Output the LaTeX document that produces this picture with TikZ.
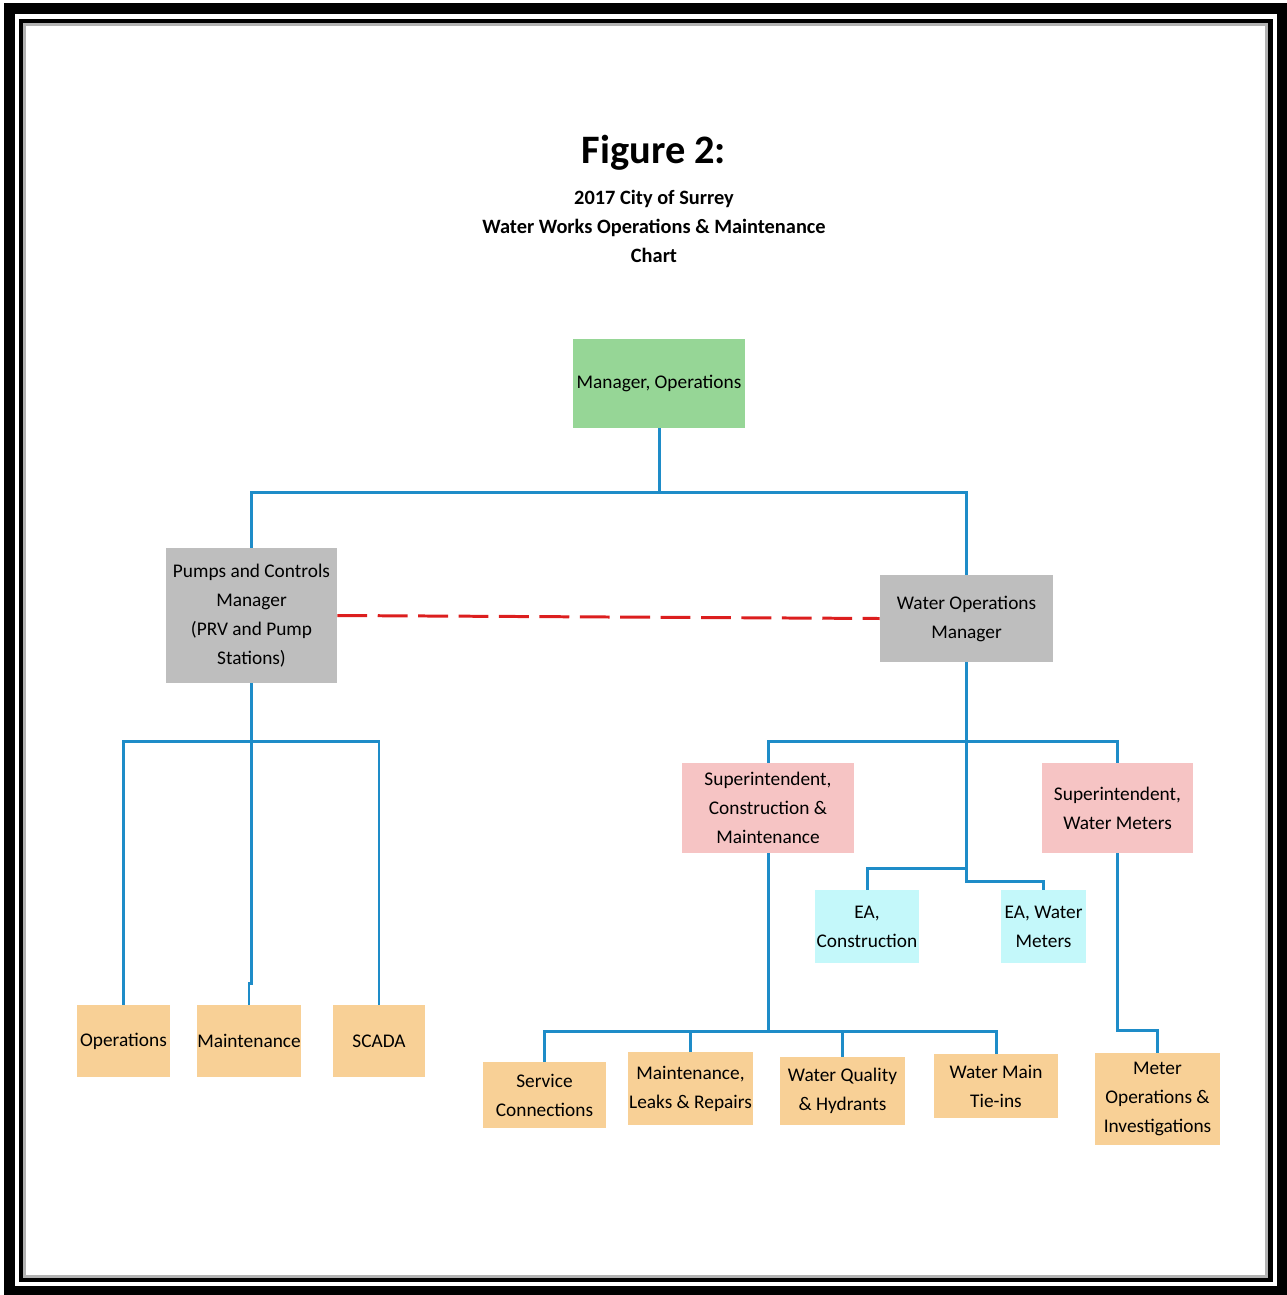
\documentclass[tikz,border=0pt]{standalone}
\usepackage{fontspec}
\setmainfont{Carlito}
\usetikzlibrary{calc}
\definecolor{MgrGreen}{RGB}{150,214,150}
\definecolor{MgrGrey}{RGB}{190,190,190}
\definecolor{SupPink}{RGB}{246,196,196}
\definecolor{EaCyan}{RGB}{196,248,250}
\definecolor{TeamOrange}{RGB}{248,208,150}
\definecolor{LinkBlue}{RGB}{30,140,200}
\definecolor{DashRed}{RGB}{220,30,30}
\tikzstyle{BoxNode}=[rectangle, inner sep=0pt, align=center, font=\fontsize{11}{16.5}\selectfont]
\tikzstyle{MgrNode}=[BoxNode, fill=MgrGreen]
\tikzstyle{GreyNode}=[BoxNode, fill=MgrGrey]
\tikzstyle{SupNode}=[BoxNode, fill=SupPink]
\tikzstyle{EaNode}=[BoxNode, fill=EaCyan]
\tikzstyle{TeamNode}=[BoxNode, fill=TeamOrange]
\tikzstyle{LinkEdge}=[LinkBlue, line width=1.7pt]
\tikzstyle{DashEdge}=[DashRed, line width=1.7pt, dash pattern=on 17pt off 6pt]

\begin{document}
\begin{tikzpicture}[x=0.02cm, y=-0.02cm]
\useasboundingbox (0,0) rectangle (1286,1295);
% frame
\draw[line width=5.7pt] (9.5,8.5) rectangle (1282,1291);
\draw[line width=2.3pt] (21,21) rectangle (1270.5,1280);
\draw[gray!60, line width=1.7pt] (24.5,24.5) rectangle (1266.5,1276.5);

% title
\node[font=\fontsize{23}{27}\selectfont\bfseries](TTL) at (654,153) {Figure 2:};
\node[align=center, font=\fontsize{11.6}{16.5}\selectfont\bfseries](SUB) at (654,226) {2017 City of Surrey\\Water Works Operations \& Maintenance\\Chart};

% managers
\node[MgrNode, minimum width=3.44cm, minimum height=1.78cm](MGR) at (659,383.5) {Manager, Operations};
\node[GreyNode, minimum width=3.42cm, minimum height=2.70cm](PCM) at (251.5,615.5) {Pumps and Controls\\Manager\\(PRV and Pump\\Stations)};
\node[GreyNode, minimum width=3.46cm, minimum height=1.74cm](WOM) at (966.5,618.5) {Water Operations\\Manager};

% superintendents and EAs
\node[SupNode, minimum width=3.44cm, minimum height=1.80cm](SCM) at (768,808) {Superintendent,\\Construction \&\\Maintenance};
\node[SupNode, minimum width=3.02cm, minimum height=1.80cm](SWM) at (1117.5,808) {Superintendent,\\Water Meters};
\node[EaNode, minimum width=2.08cm, minimum height=1.46cm](EAC) at (867,926.5) {EA,\\Construction};
\node[EaNode, minimum width=1.70cm, minimum height=1.46cm](EAW) at (1043.5,926.5) {EA, Water\\Meters};

% crews
\node[TeamNode, minimum width=1.86cm, minimum height=1.44cm](OPS) at (123.5,1041) {Operations};
\node[TeamNode, minimum width=2.08cm, minimum height=1.44cm](MNT) at (249,1041) {Maintenance};
\node[TeamNode, minimum width=1.84cm, minimum height=1.44cm](SCD) at (379,1041) {SCADA};
\node[TeamNode, minimum width=2.46cm, minimum height=1.32cm](SVC) at (544.5,1095) {Service\\Connections};
\node[TeamNode, minimum width=2.50cm, minimum height=1.46cm](MLR) at (690.5,1088.5) {Maintenance,\\Leaks \& Repairs};
\node[TeamNode, minimum width=2.50cm, minimum height=1.36cm](WQH) at (842.5,1091) {Water Quality\\\& Hydrants};
\node[TeamNode, minimum width=2.48cm, minimum height=1.28cm](WMT) at (996,1086) {Water Main\\Tie-ins};
\node[TeamNode, minimum width=2.50cm, minimum height=1.84cm](MOI) at (1157.5,1099) {Meter\\Operations \&\\Investigations};

% links
\draw[LinkEdge](MGR.south) -- ++(0,64) -| (PCM.north);
\draw[LinkEdge](MGR.south) -- ++(0,64) -| (WOM.north);
\draw[DashEdge](PCM.east) -- (WOM.west);
\draw[LinkEdge](PCM.south) -- ++(0,58) -| (OPS.north);
\draw[LinkEdge](PCM.south) -- ++(0,300) -| (MNT.north);
\draw[LinkEdge](PCM.south) -- ++(0,58) -| (SCD.north);
\draw[LinkEdge](WOM.south) -- ++(0,79) -| (SCM.north);
\draw[LinkEdge](WOM.south) -- ++(0,79) -| (SWM.north);
\draw[LinkEdge](WOM.south) -- ++(0,206) -| (EAC.north);
\draw[LinkEdge](WOM.south) -- ++(0,219) -| (EAW.north);
\draw[LinkEdge](SCM.south) -- ++(0,178) -| (SVC.north);
\draw[LinkEdge](SCM.south) -- ++(0,178) -| (MLR.north);
\draw[LinkEdge](SCM.south) -- ++(0,178) -| (WQH.north);
\draw[LinkEdge](SCM.south) -- ++(0,178) -| (WMT.north);
\draw[LinkEdge](SWM.south) -- ++(0,177) -| (MOI.north);
\end{tikzpicture}
\end{document}
